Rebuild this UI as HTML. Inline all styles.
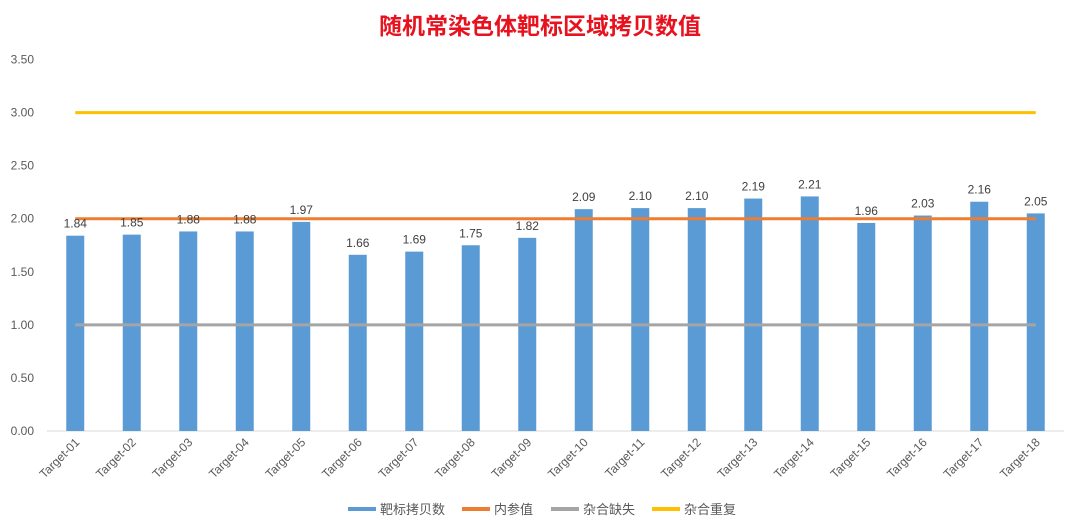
<!DOCTYPE html>
<html><head><meta charset="utf-8"><style>
body{margin:0;background:#fff;}
svg{display:block;font-family:"Liberation Sans","Noto Sans CJK SC",sans-serif;}
</style></head><body>
<svg width="1080" height="529" viewBox="0 0 1080 529">
<text x="540" y="34" text-anchor="middle" font-size="23" font-weight="bold" fill="#e8121e">随机常染色体靶标区域拷贝数值</text>
<g id="grid"></g><g id="bars"></g><g id="lines"></g><g id="labels"></g>
<g font-size="13" fill="#595959">
<g><rect x="348" y="507" width="28" height="4" fill="#5b9bd5"/><text x="380" y="514">靶标拷贝数</text></g>
<g><rect x="462" y="507" width="28" height="4" fill="#ed7d31"/><text x="494" y="514">内参值</text></g>
<g><rect x="551" y="507" width="28" height="4" fill="#a5a5a5"/><text x="583" y="514">杂合缺失</text></g>
<g><rect x="652" y="507" width="28" height="4" fill="#ffc000"/><text x="684" y="514">杂合重复</text></g>
</g>
</svg>
<script>
const categories=["Target-01","Target-02","Target-03","Target-04","Target-05","Target-06","Target-07","Target-08","Target-09","Target-10","Target-11","Target-12","Target-13","Target-14","Target-15","Target-16","Target-17","Target-18"];
const copyValues=[1.84,1.85,1.88,1.88,1.97,1.66,1.69,1.75,1.82,2.09,2.10,2.10,2.19,2.21,1.96,2.03,2.16,2.05];
const referenceValue=[2,2,2,2,2,2,2,2,2,2,2,2,2,2,2,2,2,2];
const deletionValue=[1,1,1,1,1,1,1,1,1,1,1,1,1,1,1,1,1,1];
const duplicationValue=[3,3,3,3,3,3,3,3,3,3,3,3,3,3,3,3,3,3];
const yTicks=[0,0.5,1,1.5,2,2.5,3,3.5];
const NS="http://www.w3.org/2000/svg";
const x0=47,x1=1064,y0=431,yTop=59.5,yMax=3.5;
const step=(x1-x0)/categories.length;
const xs=i=>x0+step*(i+0.5);
const ys=v=>y0-(y0-yTop)*v/yMax;
function mk(tag,attrs,parent,txt){const e=document.createElementNS(NS,tag);for(const k in attrs)e.setAttribute(k,attrs[k]);if(txt!==undefined)e.textContent=txt;document.getElementById(parent).appendChild(e);return e;}
yTicks.forEach(t=>{
 const l=mk('text',{x:34,y:ys(t)+4,'text-anchor':'end','font-size':12,fill:'#595959'},'grid',t.toFixed(2));
 
 
});
const ax=mk('line',{x1:x0,x2:x1,y1:y0,y2:y0,stroke:'#d9d9d9','stroke-width':1},'grid');


copyValues.forEach((v,i)=>{
 const b=mk('rect',{x:xs(i)-9,y:ys(v),width:18,height:y0-ys(v),fill:'#5b9bd5'},'bars');
 
 
 const t=mk('text',{x:xs(i),y:ys(v)-8,'text-anchor':'middle','font-size':12,fill:'#404040'},'labels',v.toFixed(2));
 
 
 const c=mk('text',{x:xs(i)+5,y:y0+12,'text-anchor':'end','font-size':12,fill:'#595959',transform:`rotate(-45 ${xs(i)+5} ${y0+12})`},'labels',categories[i]);
 
 
});
[[duplicationValue,'#ffc000','duplication-line'],[referenceValue,'#ed7d31','reference-line'],[deletionValue,'#a5a5a5','deletion-line']].forEach(([arr,col,name])=>{
 const p=mk('polyline',{points:arr.map((v,i)=>xs(i)+','+ys(v)).join(' '),fill:'none',stroke:col,'stroke-width':3},'lines');
 
 
});
</script>
</body></html>
